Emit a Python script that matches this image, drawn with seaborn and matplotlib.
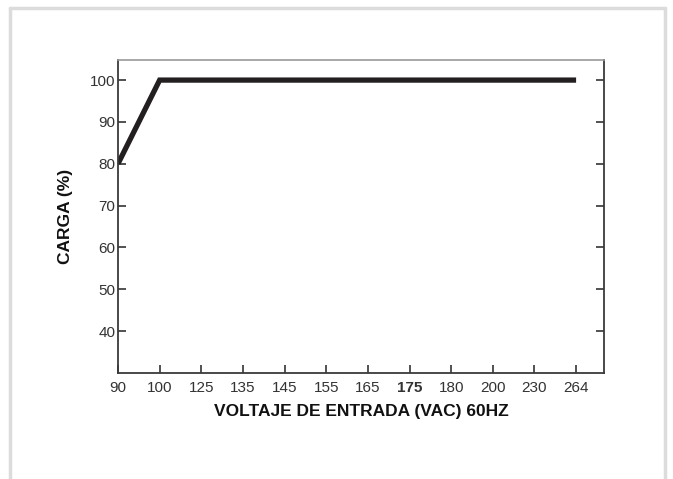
import pandas as pd
import numpy as np
import seaborn as sns
import matplotlib.pyplot as plt

# data
voltaje = ["90", "100", "125", "135", "145", "155", "165", "175", "180", "200", "230", "264"]
carga = [80, 100, 100, 100, 100, 100, 100, 100, 100, 100, 100, 100]
y_ticks = [40, 50, 60, 70, 80, 90, 100]

df = pd.DataFrame({"voltaje": voltaje, "carga": carga})

sns.set_theme(style="white")
plt.rcParams['font.family'] = ['Liberation Sans', 'DejaVu Sans']

fig = plt.figure(figsize=(6.73, 4.79), dpi=100)
ax = fig.add_axes([118 / 673, 1 - 373 / 479, (604 - 118) / 673, (373 - 60) / 479])

# light grey frame around the whole card (open at the bottom)
frame = dict(transform=fig.transFigure, color="#dcdcdc", lw=2.5)
fig.add_artist(plt.Line2D([10 / 673, 10 / 673], [0, 1 - 8 / 479], **frame))
fig.add_artist(plt.Line2D([665 / 673, 665 / 673], [0, 1 - 8 / 479], **frame))
fig.add_artist(plt.Line2D([10 / 673, 665 / 673], [1 - 8 / 479, 1 - 8 / 479], **frame))

sns.lineplot(data=df, x="voltaje", y="carga", ax=ax, color="#231f20", linewidth=3.8,
             solid_capstyle="butt", solid_joinstyle="miter", sort=False)

ax.set_xlim(0, 11.67)
ax.set_ylim(30, 104.8)
ax.set_yticks(y_ticks)
ax.set_yticklabels([str(v) for v in y_ticks])
ax.set_xticks(range(len(voltaje)))
ax.set_xticklabels(voltaje)

# the 175 label is printed darker in the original
for lbl in ax.get_xticklabels():
    if lbl.get_text() == "175":
        lbl.set_fontweight("bold")

ax.tick_params(axis="both", which="both", direction="in", length=6, width=1.2,
               colors="#333333", labelsize=11, labelcolor="#333333")
ax.tick_params(axis="y", right=True, left=True, labelright=False, pad=2)
ax.tick_params(axis="x", bottom=True, top=False, pad=6)

for side in ["left", "bottom", "right"]:
    ax.spines[side].set_color("#3a3a3a")
    ax.spines[side].set_linewidth(1.3)
ax.spines["top"].set_color("#9a9a9a")
ax.spines["top"].set_linewidth(1.2)

ax.set_xlabel("VOLTAJE DE ENTRADA (VAC) 60HZ", fontsize=12.5, fontweight="bold",
              color="#111111", labelpad=6)
ax.set_ylabel("CARGA (%)", fontsize=12.5, fontweight="bold", color="#111111", labelpad=12)

fig.savefig("out.png", dpi=100)
